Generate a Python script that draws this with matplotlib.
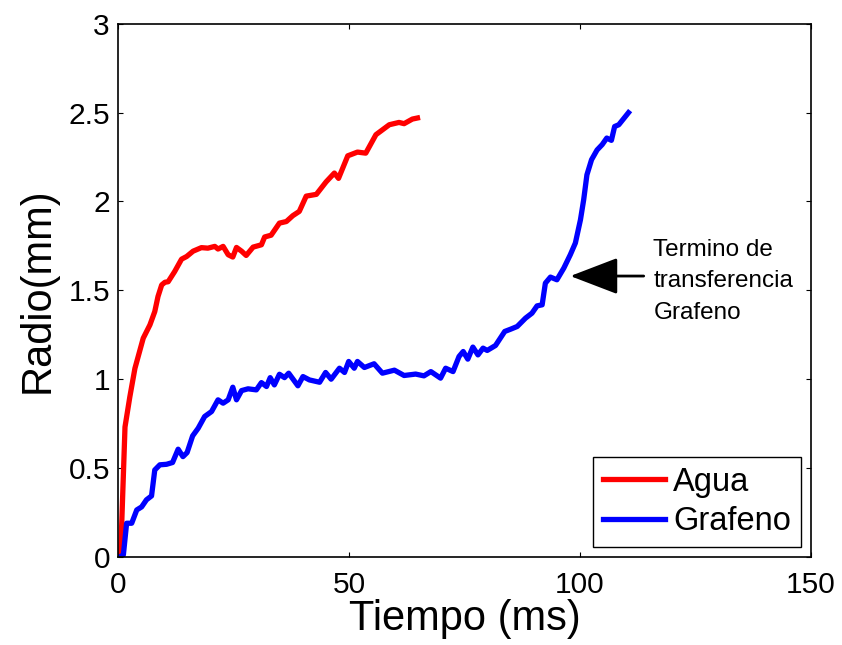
import matplotlib
matplotlib.use("Agg")
from matplotlib import pyplot as plt

plt.rcParams['font.family'] = ['Liberation Sans', 'DejaVu Sans']

# Agua (rojo)
t_agua = [0.5, 1.45, 2.5, 3.6, 5.4, 6.85, 7.9, 8.6, 9.4, 10.1, 10.8, 12.2, 13.7, 14.8,
          16.2, 18.0, 19.4, 20.9, 21.6, 22.7, 23.8, 24.8, 25.6, 26.7, 27.7, 29.2, 31.0,
          31.7, 33.1, 34.9, 36.4, 37.8, 39.2, 40.7, 42.9, 45.0, 46.8, 47.7, 49.7, 51.8,
          53.6, 55.8, 58.7, 60.8, 61.9, 63.7, 64.8]
r_agua = [0.0, 0.73, 0.90, 1.06, 1.23, 1.305, 1.38, 1.465, 1.53, 1.545, 1.548, 1.605,
          1.675, 1.69, 1.72, 1.74, 1.737, 1.747, 1.732, 1.747, 1.70, 1.687, 1.741, 1.72,
          1.696, 1.743, 1.756, 1.80, 1.81, 1.878, 1.887, 1.92, 1.944, 2.03, 2.04, 2.11,
          2.16, 2.13, 2.257, 2.278, 2.272, 2.376, 2.432, 2.445, 2.438, 2.464, 2.47]

# Grafeno (azul)
t_graf = [0.4, 1.1, 1.8, 2.9, 4.0, 5.05, 6.1, 7.2, 7.9, 9.0, 10.45, 11.75, 12.96, 14.0,
          14.9, 16.1, 17.3, 18.7, 20.2, 21.6, 22.7, 23.8, 24.8, 25.6, 26.7, 28.1, 29.9,
          31.0, 32.1, 32.9, 33.8, 34.9, 36.0, 36.9, 38.9, 40.0, 41.4, 43.6, 44.9, 46.1,
          47.9, 49.0, 49.9, 51.1, 51.8, 53.3, 55.4, 57.2, 59.8, 61.9, 64.4, 66.2, 67.7,
          69.8, 70.9, 72.5, 73.8, 74.7, 75.7, 76.8, 77.9, 79.0, 79.9, 81.7, 83.7, 85.0,
          86.4, 88.2, 89.6, 90.7, 91.8, 92.5, 93.6, 95.0, 96.5, 97.9, 99.0, 100.1, 100.8,
          101.5, 102.5, 103.7, 104.8, 105.8, 106.8, 107.5, 108.4, 110.5]
r_graf = [0.0, 0.01, 0.188, 0.188, 0.263, 0.28, 0.32, 0.342, 0.488, 0.517, 0.52, 0.53,
          0.605, 0.563, 0.586, 0.68, 0.723, 0.789, 0.817, 0.883, 0.864, 0.883, 0.954,
          0.883, 0.935, 0.945, 0.939, 0.98, 0.958, 1.008, 0.967, 1.027, 1.008, 1.033,
          0.962, 1.014, 0.995, 0.982, 1.037, 0.999, 1.061, 1.037, 1.099, 1.061, 1.099,
          1.065, 1.086, 1.033, 1.05, 1.02, 1.028, 1.018, 1.042, 1.005, 1.061, 1.042,
          1.127, 1.155, 1.112, 1.18, 1.136, 1.174, 1.161, 1.189, 1.268, 1.281, 1.296,
          1.343, 1.371, 1.412, 1.418, 1.54, 1.574, 1.559, 1.625, 1.70, 1.766, 1.897,
          2.01, 2.15, 2.235, 2.29, 2.32, 2.357, 2.344, 2.422, 2.432, 2.50]

fig = plt.figure(figsize=(8.42, 6.45), dpi=100)
ax = fig.add_axes([0.1405, 0.137, 0.8225, 0.826])

ax.plot(t_agua, r_agua, color="red", linewidth=3.8, label="Agua")
ax.plot(t_graf, r_graf, color="blue", linewidth=3.8, label="Grafeno")

ax.set_xlim(0, 150)
ax.set_ylim(0, 3)
ax.set_xticks([0, 50, 100, 150])
ax.set_yticks([0, 0.5, 1, 1.5, 2, 2.5, 3])
ax.set_yticklabels(["0", "0.5", "1", "1.5", "2", "2.5", "3"])
ax.tick_params(direction="in", length=3.6, width=0.8, labelsize=21.5,
               top=True, right=True)
ax.tick_params(axis="x", pad=10)
ax.tick_params(axis="y", pad=6)
for s in ax.spines.values():
    s.set_linewidth(1.2)

ax.set_xlabel("Tiempo (ms)", fontsize=30, labelpad=0)
ax.set_ylabel("Radio(mm)", fontsize=30, labelpad=8)

# flecha y texto
ax.annotate("", xy=(97.9, 1.58), xytext=(113.8, 1.58),
            arrowprops=dict(arrowstyle="-|>,head_length=30,head_width=11.5",
                            mutation_scale=1, color="black", linewidth=2,
                            shrinkA=0, shrinkB=0))
ax.text(115.9, 1.55, "Termino de\ntransferencia\nGrafeno", fontsize=17.5,
        ha="left", va="center", linespacing=1.55)

leg = ax.legend(loc="lower right", fontsize=23.5, frameon=True, fancybox=False,
                framealpha=1, edgecolor="black", handlelength=1.9,
                handletextpad=0.27, labelspacing=0.25, borderpad=0.3,
                borderaxespad=0.3)
leg.get_frame().set_linewidth(1.0)

fig.savefig("out.png", dpi=100)
